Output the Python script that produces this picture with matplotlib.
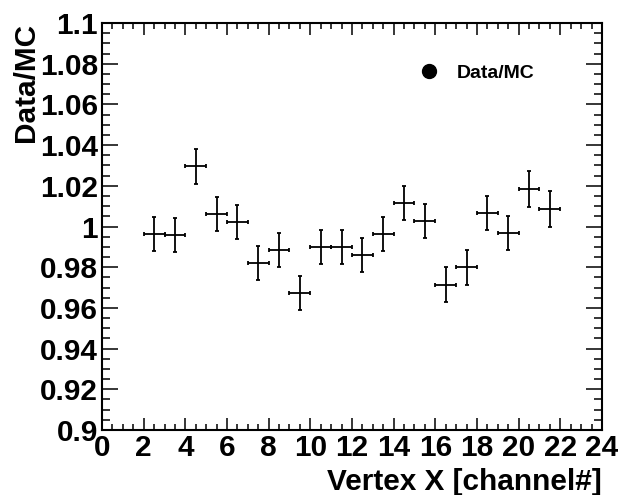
import matplotlib
matplotlib.use('Agg')
import matplotlib.pyplot as plt
from matplotlib.lines import Line2D
from matplotlib.ticker import MultipleLocator, FuncFormatter
import numpy as np

# bin centres and ratio values
channel = [2.5, 3.5, 4.5, 5.5, 6.5, 7.5, 8.5, 9.5, 10.5, 11.5,
           12.5, 13.5, 14.5, 15.5, 16.5, 17.5, 18.5, 19.5, 20.5, 21.5]
ratio = [0.9963, 0.9958, 1.0297, 1.0061, 1.0022, 0.9820, 0.9885, 0.9673, 0.9900, 0.9900,
         0.9860, 0.9963, 1.0116, 1.0027, 0.9713, 0.9800, 1.0066, 0.9968, 1.0184, 1.0086]
ratio_err = [0.0084, 0.0084, 0.0086, 0.0084, 0.0085, 0.0085, 0.0084, 0.0084, 0.0085, 0.0085,
             0.0085, 0.0085, 0.0084, 0.0085, 0.0086, 0.0085, 0.0084, 0.0085, 0.0087, 0.0088]
bin_half = [0.5] * len(channel)

plt.rcParams['font.family'] = ['Liberation Sans', 'DejaVu Sans']
plt.rcParams['font.weight'] = 'bold'

fig = plt.figure(figsize=(6.19, 4.95), dpi=100)
ax = fig.add_axes([0.1648, 0.1313, 0.8077, 0.8222])

ax.errorbar(channel, ratio, yerr=ratio_err, xerr=bin_half, fmt='none',
            ecolor='black', elinewidth=1.3, capsize=1.6, capthick=1.3)

ax.set_xlim(0, 24)
ax.set_ylim(0.9, 1.1)
ax.xaxis.set_major_locator(MultipleLocator(2))
ax.xaxis.set_minor_locator(MultipleLocator(0.5))
ax.yaxis.set_major_locator(MultipleLocator(0.02))
ax.yaxis.set_minor_locator(MultipleLocator(0.005))
ax.yaxis.set_major_formatter(FuncFormatter(lambda v, p: '%g' % round(v, 3)))

ax.tick_params(which='both', direction='in', top=True, right=True, width=1.1,
               labelsize=21.4)
ax.tick_params(axis='x', which='major', length=8.6, pad=3)
ax.tick_params(axis='x', which='minor', length=4.6)
ax.tick_params(axis='y', which='major', length=11.5, pad=3)
ax.tick_params(axis='y', which='minor', length=5.8)
for s in ax.spines.values():
    s.set_linewidth(1.5)

ax.set_xlabel('Vertex X [channel#]', fontsize=21.4, fontweight='bold',
              loc='right', labelpad=4)
ax.set_ylabel('Data/MC', fontsize=21.4, fontweight='bold', loc='top', labelpad=0)

h = Line2D([], [], marker='o', ls='none', color='black', markersize=10)
ax.legend([h], ['Data/MC'], loc='center left', bbox_to_anchor=(0.60, 0.876),
          frameon=False, fontsize=14, handletextpad=0.4, borderaxespad=0)

fig.savefig('out.png', dpi=100)
